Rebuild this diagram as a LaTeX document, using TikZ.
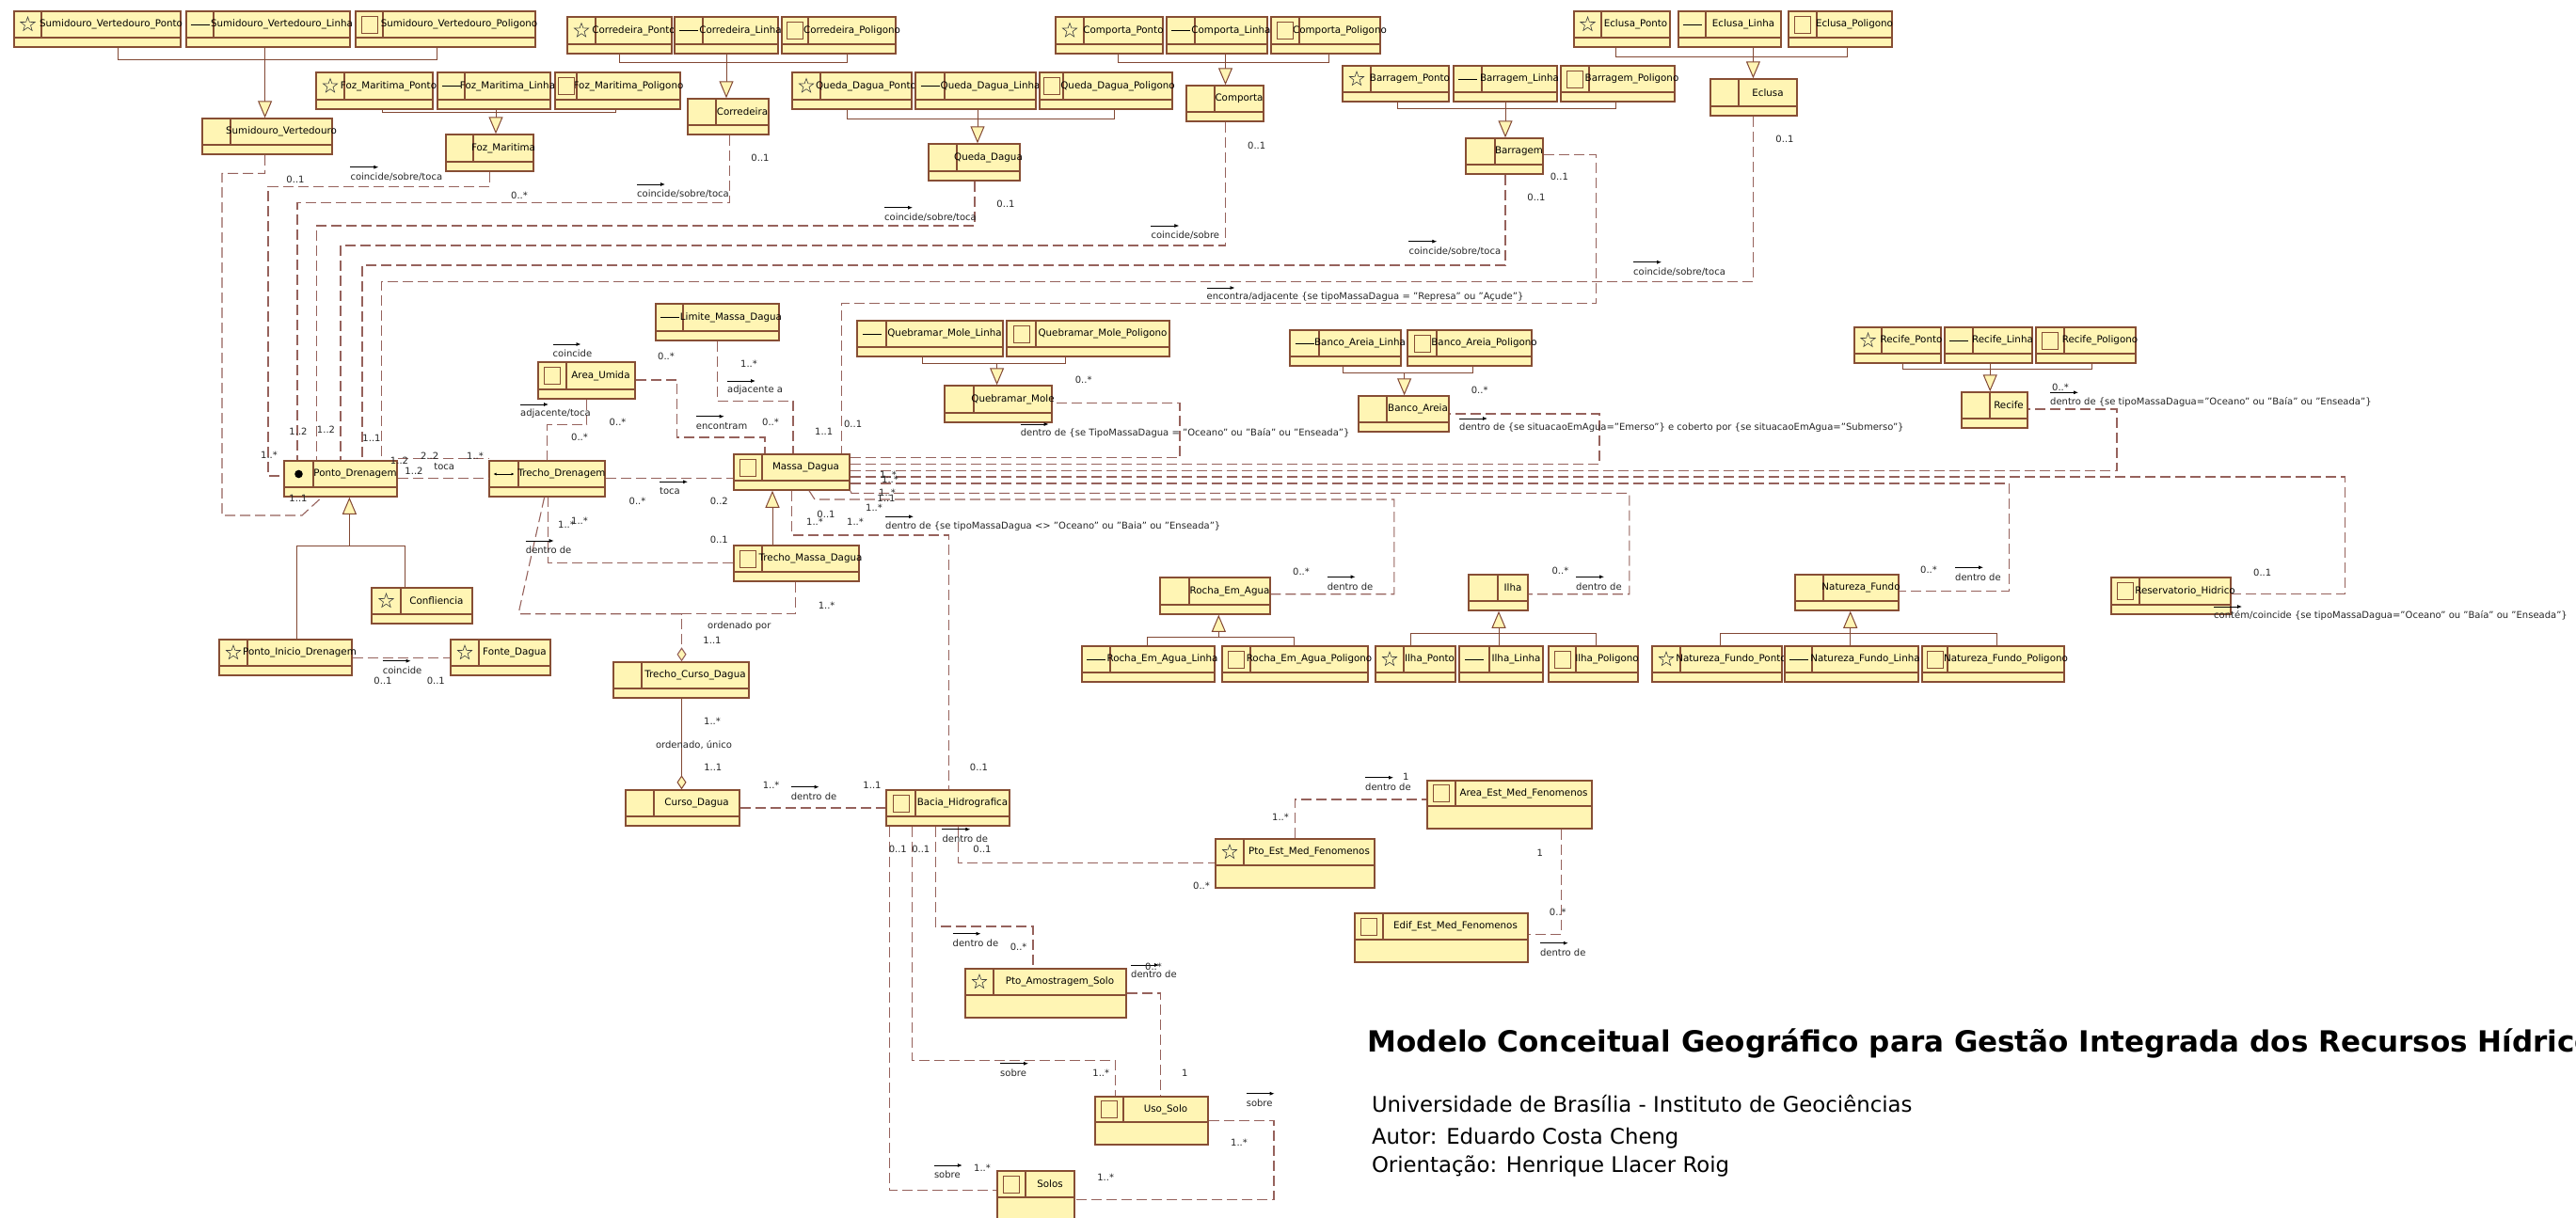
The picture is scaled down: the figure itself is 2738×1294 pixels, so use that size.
\documentclass[tikz,border=0pt]{standalone}
\usepackage{fontspec}
\setmainfont{DejaVu Sans}
\usetikzlibrary{shapes.geometric,arrows.meta,calc,fit}
\definecolor{boxfill}{RGB}{255,245,180}
\definecolor{boxdraw}{RGB}{135,78,52}
\definecolor{assocc}{RGB}{150,98,92}
\definecolor{genc}{RGB}{130,72,52}
\tikzset{
  clsbox/.style={draw=boxdraw, fill=boxfill, line width=1.5pt, inner sep=0pt, rectangle},
  clsln/.style={draw=boxdraw, line width=1.3pt},
  clsname/.style={font=\fontsize{10.3}{12}\selectfont, inner sep=0pt, text=black},
  lbl/.style={font=\fontsize{10}{12}\selectfont, inner sep=0pt, text=black!85},
  assoc/.style={draw=assocc, line width=1.1pt, dash pattern=on 11pt off 5pt},
  gen/.style={draw=genc, line width=1.0pt},
  tri/.style={-{Triangle[length=18pt,width=15pt,fill=boxfill]}},
  dia/.style={-{Diamond[length=15pt,width=10pt,fill=boxfill]}},
  relarr/.style={draw=black, line width=0.8pt, -{Latex[length=5pt,width=4pt]}},
  icstar/.style={star, star points=5, star point ratio=2.5, draw=black!75, line width=0.6pt, minimum size=16pt, inner sep=0pt},
}
\newcommand\icStar[1]{\node[icstar] at #1 {};}
\newcommand\icLine[1]{\draw[black, line width=0.8pt] #1 ++(-10,0) -- ++(20,0);}
\newcommand\icPoly[1]{\draw[draw=boxdraw, line width=1pt] #1 ++(-8.5,-9) rectangle ++(17,18);}
\newcommand\icDot[1]{\fill[black] #1 circle[radius=4.3pt];}
\newcommand\icArr[1]{\draw[black, line width=0.6pt, {Latex[length=3pt,width=3pt]}-{Latex[length=3pt,width=3pt]}] #1 ++(-11,0) -- ++(22,0);}
\newcommand\icNone[1]{}
% name, left, top, right, bottom, compartment line, divider, label, icon
\newcommand\uml[9]{%
  \node[clsbox, fit={(#2,#3) (#4,#5)}] (#1) {};
  \draw[clsln] (#2,#6) -- (#4,#6);
  \draw[clsln] (#7,#3) -- (#7,#6);
  \node[clsname] at ($(#7,#3)!0.5!(#4,#6)$) {#8};
  #9{($(#2,#3)!0.5!(#7,#6)$)}%
}
\newcommand\mlab[3]{\node[lbl] at (#1,#2) {#3};}
\newcommand\rlab[3]{\draw[relarr] (#1,#2-10) -- ++(30,0); \node[lbl,anchor=west] at (#1,#2) {#3};}
\newcommand\tlab[3]{\node[lbl,anchor=west] at (#1,#2) {#3};}
\begin{document}
\begin{tikzpicture}[x=1pt,y=-1pt]
\fill[white] (0,0) rectangle (2738,1294);
\useasboundingbox (0,0) rectangle (2738,1294);
% ---------------- classes ----------------
\uml{svp}{15}{12}{192}{50}{40}{44}{Sumidouro\_Vertedouro\_Ponto}{\icStar}
\uml{svl}{198}{12}{372}{50}{40}{227}{Sumidouro\_Vertedouro\_Linha}{\icLine}
\uml{svg}{378}{12}{569}{50}{40}{407}{Sumidouro\_Vertedouro\_Poligono}{\icPoly}
\uml{sv}{215}{126}{353}{164}{154}{245}{Sumidouro\_Vertedouro}{\icNone}
\uml{fmp}{336}{77}{460}{116}{106}{366}{Foz\_Maritima\_Ponto}{\icStar}
\uml{fml}{465}{77}{585}{116}{106}{494}{Foz\_Maritima\_Linha}{\icLine}
\uml{fmg}{590}{77}{723}{116}{106}{613}{Foz\_Maritima\_Poligono}{\icPoly}
\uml{fm}{474}{143}{567}{182}{172}{503}{Foz\_Maritima}{\icNone}
\uml{crp}{603}{18}{714}{57}{47}{633}{Corredeira\_Ponto}{\icStar}
\uml{crl}{717}{18}{827}{57}{47}{747}{Corredeira\_Linha}{\icLine}
\uml{crg}{831}{18}{952}{57}{47}{859}{Corredeira\_Poligono}{\icPoly}
\uml{cr}{731}{105}{817}{143}{133}{761}{Corredeira}{\icNone}
\uml{qdp}{842}{77}{969}{116}{106}{872}{Queda\_Dagua\_Ponto}{\icStar}
\uml{qdl}{973}{77}{1101}{116}{106}{1004}{Queda\_Dagua\_Linha}{\icLine}
\uml{qdg}{1105}{77}{1246}{116}{106}{1130}{Queda\_Dagua\_Poligono}{\icPoly}
\uml{qd}{987}{153}{1084}{192}{182}{1017}{Queda\_Dagua}{\icNone}
\uml{cop}{1122}{18}{1236}{57}{47}{1152}{Comporta\_Ponto}{\icStar}
\uml{col}{1240}{18}{1347}{57}{47}{1270}{Comporta\_Linha}{\icLine}
\uml{cog}{1351}{18}{1467}{57}{47}{1381}{Comporta\_Poligono}{\icPoly}
\uml{co}{1261}{91}{1343}{129}{119}{1291}{Comporta}{\icNone}
\uml{bap}{1427}{70}{1540}{108}{98}{1457}{Barragem\_Ponto}{\icStar}
\uml{bal}{1545}{70}{1655}{108}{98}{1575}{Barragem\_Linha}{\icLine}
\uml{bag}{1659}{70}{1780}{108}{98}{1689}{Barragem\_Poligono}{\icPoly}
\uml{ba}{1558}{147}{1640}{185}{175}{1589}{Barragem}{\icNone}
\uml{ecp}{1673}{12}{1775}{50}{40}{1702}{Eclusa\_Ponto}{\icStar}
\uml{ecl}{1784}{12}{1893}{50}{40}{1813}{Eclusa\_Linha}{\icLine}
\uml{ecg}{1901}{12}{2011}{50}{40}{1931}{Eclusa\_Poligono}{\icPoly}
\uml{ec}{1818}{84}{1910}{123}{113}{1848}{Eclusa}{\icNone}
\uml{lmd}{697}{323}{828}{362}{352}{726}{Limite\_Massa\_Dagua}{\icLine}
\uml{au}{572}{385}{675}{424}{414}{602}{Area\_Umida}{\icPoly}
\uml{pd}{302}{490}{422}{528}{518}{333}{Ponto\_Drenagem}{\icDot}
\uml{td}{520}{490}{643}{528}{518}{551}{Trecho\_Drenagem}{\icArr}
\uml{md}{780}{483}{903}{521}{511}{810}{Massa\_Dagua}{\icPoly}
\uml{tmd}{780}{580}{913}{618}{608}{810}{Trecho\_Massa\_Dagua}{\icPoly}
\uml{cf}{395}{625}{502}{663}{653}{426}{Confliencia}{\icStar}
\uml{pid}{233}{680}{374}{718}{708}{263}{Ponto\_Inicio\_Drenagem}{\icStar}
\uml{fd}{479}{680}{585}{718}{708}{509}{Fonte\_Dagua}{\icStar}
\uml{tcd}{652}{704}{796}{742}{732}{682}{Trecho\_Curso\_Dagua}{\icNone}
\uml{cd}{665}{840}{786}{878}{868}{695}{Curso\_Dagua}{\icNone}
\uml{bh}{942}{840}{1073}{878}{868}{973}{Bacia\_Hidrografica}{\icPoly}
\uml{qml}{911}{341}{1066}{379}{369}{942}{Quebramar\_Mole\_Linha}{\icLine}
\uml{qmg}{1070}{341}{1243}{379}{369}{1101}{Quebramar\_Mole\_Poligono}{\icPoly}
\uml{qm}{1004}{410}{1118}{449}{439}{1035}{Quebramar\_Mole}{\icNone}
\uml{bnl}{1371}{351}{1489}{389}{379}{1402}{Banco\_Areia\_Linha}{\icLine}
\uml{bng}{1496}{351}{1628}{389}{379}{1527}{Banco\_Areia\_Poligono}{\icPoly}
\uml{bn}{1444}{421}{1540}{459}{449}{1474}{Banco\_Areia}{\icNone}
\uml{rep}{1971}{348}{2063}{386}{376}{2000}{Recife\_Ponto}{\icStar}
\uml{rel}{2067}{348}{2160}{386}{376}{2097}{Recife\_Linha}{\icLine}
\uml{reg}{2164}{348}{2270}{386}{376}{2194}{Recife\_Poligono}{\icPoly}
\uml{re}{2085}{417}{2155}{455}{445}{2115}{Recife}{\icNone}
\uml{ra}{1233}{614}{1350}{653}{643}{1264}{Rocha\_Em\_Agua}{\icNone}
\uml{ral}{1150}{687}{1291}{725}{715}{1180}{Rocha\_Em\_Agua\_Linha}{\icLine}
\uml{rag}{1299}{687}{1454}{725}{715}{1329}{Rocha\_Em\_Agua\_Poligono}{\icPoly}
\uml{ilp}{1462}{687}{1547}{725}{715}{1492}{Ilha\_Ponto}{\icStar}
\uml{ill}{1551}{687}{1640}{725}{715}{1583}{Ilha\_Linha}{\icLine}
\uml{ilg}{1646}{687}{1741}{725}{715}{1675}{Ilha\_Poligono}{\icPoly}
\uml{il}{1561}{611}{1624}{649}{639}{1592}{Ilha}{\icNone}
\uml{nf}{1908}{611}{2018}{649}{639}{1938}{Natureza\_Fundo}{\icNone}
\uml{nfp}{1756}{687}{1894}{725}{715}{1786}{Natureza\_Fundo\_Ponto}{\icStar}
\uml{nfl}{1897}{687}{2039}{725}{715}{1926}{Natureza\_Fundo\_Linha}{\icLine}
\uml{nfg}{2043}{687}{2194}{725}{715}{2070}{Natureza\_Fundo\_Poligono}{\icPoly}
\uml{rh}{2244}{614}{2371}{653}{643}{2274}{Reservatorio\_Hidrico}{\icPoly}
\uml{pem}{1292}{892}{1461}{944}{920}{1322}{Pto\_Est\_Med\_Fenomenos}{\icStar}
\uml{aem}{1517}{830}{1692}{881}{857}{1547}{Area\_Est\_Med\_Fenomenos}{\icPoly}
\uml{eem}{1440}{971}{1624}{1023}{999}{1470}{Edif\_Est\_Med\_Fenomenos}{\icPoly}
\uml{pas}{1026}{1030}{1197}{1082}{1058}{1056}{Pto\_Amostragem\_Solo}{\icStar}
\uml{us}{1164}{1166}{1284}{1217}{1193}{1194}{Uso\_Solo}{\icPoly}
\uml{so}{1060}{1245}{1142}{1302}{1273}{1090}{Solos}{\icPoly}
% ---------------- generalizations ----------------
\draw[gen] (svp.south -| 125,0) -- (125,63.3) -- (464.7,63.3) -- (svg.south -| 464.7,0);
\draw[gen,tri] (svl.south -| 281.6,0) -- (sv.north -| 281.6,0);
\draw[gen] (fmp.south -| 406,0) -- (406,119) -- (654.8,119) -- (fmg.south -| 654.8,0);
\draw[gen,tri] (fml.south -| 527,0) -- (fm.north -| 527,0);
\draw[gen] (crp.south -| 658,0) -- (658,66.7) -- (900.6,66.7) -- (crg.south -| 900.6,0);
\draw[gen,tri] (crl.south -| 772,0) -- (cr.north -| 772,0);
\draw[gen] (qdp.south -| 900.6,0) -- (900.6,126) -- (1184.6,126) -- (qdg.south -| 1184.6,0);
\draw[gen,tri] (qdl.south -| 1039,0) -- (qd.north -| 1039,0);
\draw[gen] (cop.south -| 1188,0) -- (1188,66.7) -- (1412.8,66.7) -- (cog.south -| 1412.8,0);
\draw[gen,tri] (col.south -| 1302.5,0) -- (co.north -| 1302.5,0);
\draw[gen] (bap.south -| 1485.5,0) -- (1485.5,115.7) -- (1717.3,115.7) -- (bag.south -| 1717.3,0);
\draw[gen,tri] (bal.south -| 1600,0) -- (ba.north -| 1600,0);
\draw[gen] (ecp.south -| 1717,0) -- (1717,60.7) -- (1963.3,60.7) -- (ecg.south -| 1963.3,0);
\draw[gen,tri] (ecl.south -| 1863.4,0) -- (ec.north -| 1863.4,0);
\draw[gen] (qml.south -| 980,0) -- (980,386) -- (1132,386) -- (qmg.south -| 1132,0);
\coordinate (j8) at (1059.6,386);
\draw[gen,tri] (j8) -- (qm.north -| j8);
\draw[gen] (bnl.south -| 1427,0) -- (1427,396) -- (1565.3,396) -- (bng.south -| 1565.3,0);
\coordinate (j9) at (1492.6,396);
\draw[gen,tri] (j9) -- (bn.north -| j9);
\draw[gen] (rep.south -| 2022.5,0) -- (2022.5,392.7) -- (2223.5,392.7) -- (reg.south -| 2223.5,0);
\draw[gen,tri] (rel.south -| 2115.2,0) -- (re.north -| 2115.2,0);
\draw[gen] (ral.north -| 1219.5,0) -- (1219.5,677) -- (1375,677) -- (rag.north -| 1375,0);
\coordinate (j11) at (1295.3,677);
\draw[gen,tri] (j11) -- (ra.south -| j11);
\draw[gen] (ilp.north -| 1499.6,0) -- (1499.6,673.3) -- (1696.2,673.3) -- (ilg.north -| 1696.2,0);
\draw[gen,tri] (ill.north -| 1593,0) -- (il.south -| 1593,0);
\draw[gen] (nfp.north -| 1828,0) -- (1828,673.3) -- (2122.8,673.3) -- (nfg.north -| 2122.8,0);
\draw[gen,tri] (nfl.north -| 1966.7,0) -- (nf.south -| 1966.7,0);
\draw[gen] (pid.north -| 315.8,0) -- (315.8,580) -- (430,580) -- (cf.north -| 430,0);
\coordinate (j14) at (371.4,580);
\draw[gen,tri] (j14) -- (pd.south -| j14);
\draw[gen,tri] (tmd.north -| 821,0) -- (md.south -| 821,0);
% ---------------- associations ----------------
\draw[assoc] (sv.south -| 281.6,0) -- (281.6,184.3) -- (236,184.3) -- (236,548) -- (321,548) -- (pd.south -| 342,0);
\draw[assoc] (fm.south -| 520.4,0) -- (520.4,198.3) -- (285,198.3) -- (285,506) -- (pd.west |- 0,506);
\draw[assoc] (cr.south -| 775.6,0) -- (775.6,215.7) -- (316,215.7) -- (pd.north -| 316,0);
\draw[assoc] (qd.south -| 1036,0) -- (1036,240) -- (336.7,240) -- (pd.north -| 336.7,0);
\draw[assoc] (co.south -| 1302.5,0) -- (1302.5,261) -- (362,261) -- (pd.north -| 362,0);
\draw[assoc] (ba.south -| 1600,0) -- (1600,282) -- (385,282) -- (pd.north -| 385,0);
\draw[assoc] (ec.south -| 1863.4,0) -- (1863.4,299.7) -- (405.6,299.7) -- (pd.north -| 405.6,0);
\draw[assoc] (ba.east |- 0,164.7) -- (1696.8,164.7) -- (1696.8,322.7) -- (894.6,322.7) -- (md.north -| 894.6,0);
\draw[assoc] (lmd.south -| 762.6,0) -- (762.6,426.7) -- (843,426.7) -- (md.north -| 843,0);
\draw[assoc] (au.east |- 0,404) -- (719.6,404) -- (719.6,465) -- (813,465) -- (md.north -| 813,0);
\draw[assoc] (au.south -| 623.7,0) -- (623.7,451.7) -- (581.8,451.7) -- (td.north -| 581.8,0);
\draw[assoc] (pd.north east |- 0,487.3) -- (td.north west |- 0,487.3);
\draw[assoc] (pd.east |- 0,508.3) -- (td.west |- 0,508.3);
\draw[assoc] (td.east |- 0,508.3) -- (md.west |- 0,508.3);
\draw[assoc] (tmd.west |- 0,598.3) -- (582.7,598.3) -- (td.south -| 582.7,0);
\draw[assoc,dia] (tmd.south -| 845.4,0) -- (845.4,652.7) -- (724.5,652.7) -- (tcd.north -| 724.5,0);
\coordinate (j16) at (724.5,652.7);
\draw[assoc] (td.south -| 578.6,0) -- (552,648) -- (552,652.7) -- (j16);
\draw[gen,dia] (tcd.south -| 724.5,0) -- (cd.north -| 724.5,0);
\draw[assoc] (cd.east |- 0,859) -- (bh.west |- 0,859);
\draw[assoc] (md.south -| 841.8,0) -- (841.8,569) -- (1008.2,569) -- (bh.north -| 1008.2,0);
\draw[assoc] (md.south -| 860,0) -- (866,531) -- (1481.8,531) -- (1481.8,631.7) -- (ra.east |- 0,631.7);
\draw[assoc] (md.south east) -- (905,524.3) -- (1731.8,524.3) -- (1731.8,631.7) -- (il.east |- 0,631.7);
\draw[assoc] (md.east |- 0,514) -- (2135.7,514) -- (2135.7,628.3) -- (nf.east |- 0,628.3);
\draw[assoc] (md.east |- 0,507) -- (2492.6,507) -- (2492.6,631.7) -- (rh.east |- 0,631.7);
\draw[assoc] (md.east |- 0,500.5) -- (2250,500.5) -- (2250,435) -- (re.east |- 0,435);
\draw[assoc] (md.east |- 0,493.3) -- (1700,493.3) -- (1700,440) -- (bn.east |- 0,440);
\draw[assoc] (md.east |- 0,486.3) -- (1254,486.3) -- (1254,428.3) -- (qm.east |- 0,428.3);
\draw[assoc] (pid.east |- 0,699.3) -- (fd.west |- 0,699.3);
\draw[assoc] (bh.south -| 1018.8,0) -- (1018.8,917.3) -- (pem.west |- 0,917.3);
\draw[assoc] (pem.north -| 1376.6,0) -- (1376.6,850) -- (aem.west |- 0,850);
\draw[assoc] (aem.south -| 1659.3,0) -- (1659.3,993.3) -- (eem.east |- 0,993.3);
\draw[assoc] (bh.south -| 994.2,0) -- (994.2,985) -- (1098,985) -- (pas.north -| 1098,0);
\draw[assoc] (bh.south -| 969.7,0) -- (969.7,1127.7) -- (1185.8,1127.7) -- (us.north -| 1185.8,0);
\draw[assoc] (bh.south -| 945.8,0) -- (945.8,1265.7) -- (so.west |- 0,1265.7);
\draw[assoc] (pas.east |- 0,1056) -- (1233.5,1056) -- (us.north -| 1233.5,0);
\draw[assoc] (us.east |- 0,1191.7) -- (1354,1191.7) -- (1354,1275.7) -- (so.east |- 0,1275.7);
% ---------------- association names ----------------
\rlab{372.3}{187.7}{coincide/sobre/toca}
\rlab{677}{206}{coincide/sobre/toca}
\rlab{940}{230.7}{coincide/sobre/toca}
\rlab{1223.3}{250}{coincide/sobre}
\rlab{1497.3}{266.7}{coincide/sobre/toca}
\rlab{1736}{288.7}{coincide/sobre/toca}
\rlab{1282.5}{316}{encontra/adjacente \{se tipoMassaDagua = "Represa" ou "Açude"\}}
\rlab{587.5}{376}{coincide}
\rlab{773}{415}{adjacente a}
\rlab{553}{440}{adjacente/toca}
\rlab{739.7}{452.7}{encontram}
\tlab{461.2}{496.3}{toca}
\rlab{701}{522.3}{toca}
\rlab{558.7}{585}{dentro de}
\rlab{1084.6}{461}{dentro de \{se TipoMassaDagua = "Oceano" ou "Baía" ou "Enseada"\}}
\rlab{1551}{455}{dentro de \{se situacaoEmAgua="Emerso"\} e coberto por \{se situacaoEmAgua="Submerso"\}}
\rlab{2179}{427.3}{dentro de \{se tipoMassaDagua="Oceano" ou "Baía" ou "Enseada"\}}
\rlab{941}{559.3}{dentro de \{se tipoMassaDagua <> "Oceano" ou "Baia" ou "Enseada"\}}
\rlab{1410.6}{623.3}{dentro de}
\rlab{1675}{623.3}{dentro de}
\rlab{2078}{613.3}{dentro de}
\rlab{2353}{655}{contém/coincide \{se tipoMassaDagua="Oceano" ou "Baía" ou "Enseada"\}}
\rlab{406.6}{712.7}{coincide}
\tlab{752}{666}{ordenado por}
\tlab{696.8}{791.7}{ordenado, único}
\rlab{840.6}{846.7}{dentro de}
\rlab{1001.3}{891.7}{dentro de}
\rlab{1451}{836.7}{dentro de}
\rlab{1636.8}{1012.7}{dentro de}
\rlab{1012.5}{1002.7}{dentro de}
\rlab{1202}{1036}{dentro de}
\rlab{1063}{1140.7}{sobre}
\rlab{1324.6}{1172.7}{sobre}
\rlab{992.8}{1249}{sobre}
% ---------------- multiplicities ----------------
\mlab{314}{191}{0..1}
\mlab{552}{207.7}{0..*}
\mlab{808}{168.3}{0..1}
\mlab{1069}{217.3}{0..1}
\mlab{1335.7}{155}{0..1}
\mlab{1633}{210}{0..1}
\mlab{1657.4}{188.3}{0..1}
\mlab{1897}{148.3}{0..1}
\mlab{286}{483.3}{1..*}
\mlab{317}{458.3}{1..2}
\mlab{346.5}{457}{1..2}
\mlab{395}{466}{1..1}
\mlab{317}{529.5}{1..1}
\mlab{424.5}{490}{1..2}
\mlab{456.6}{485}{2..2}
\mlab{505}{485}{1..*}
\mlab{440}{500.7}{1..2}
\mlab{708}{379.3}{0..*}
\mlab{796}{387}{1..*}
\mlab{656.6}{449.3}{0..*}
\mlab{616}{465}{0..*}
\mlab{819}{449.3}{0..*}
\mlab{875.7}{459.3}{1..1}
\mlab{906.6}{451}{0..1}
\mlab{677.5}{533.3}{0..*}
\mlab{764.3}{533.3}{0..2}
\mlab{602}{558}{1..*}
\mlab{616}{554}{1..*}
\mlab{764.3}{574}{0..1}
\mlab{878.6}{643.3}{1..*}
\mlab{757}{681}{1..1}
\mlab{757}{766.7}{1..*}
\mlab{757.8}{815.7}{1..1}
\mlab{819.6}{835}{1..*}
\mlab{927}{835}{1..1}
\mlab{1040.5}{815.7}{0..1}
\mlab{944}{505}{1..*}
\mlab{946}{510}{1..*}
\mlab{943}{524}{1..*}
\mlab{942}{529.5}{1..1}
\mlab{929}{540}{1..*}
\mlab{878}{546.7}{0..1}
\mlab{866}{555}{1..*}
\mlab{909}{555}{1..*}
\mlab{1151.7}{404}{0..*}
\mlab{1572.7}{415}{0..*}
\mlab{2190}{411.7}{0..*}
\mlab{1383}{608.3}{0..*}
\mlab{1658.4}{606.7}{0..*}
\mlab{2050}{606}{0..*}
\mlab{2404.7}{609}{0..1}
\mlab{407}{724}{0..1}
\mlab{463.3}{724}{0..1}
\mlab{954.3}{903.3}{0..1}
\mlab{978.8}{903.3}{0..1}
\mlab{1044}{903.3}{0..1}
\mlab{1277}{942.3}{0..*}
\mlab{1361}{868.3}{1..*}
\mlab{1494.4}{826}{1}
\mlab{1636.8}{906.7}{1}
\mlab{1655.8}{970}{0..*}
\mlab{1082.6}{1006.7}{0..*}
\mlab{1226}{1028}{0..*}
\mlab{1259.4}{1140.7}{1}
\mlab{1170.3}{1140.7}{1..*}
\mlab{1317}{1215}{1..*}
\mlab{1175.2}{1251.7}{1..*}
\mlab{1044}{1241.7}{1..*}
% ---------------- title block ----------------
\node[anchor=base west, inner sep=0pt, font=\fontsize{31}{36}\selectfont\bfseries] (title) at (1453.6,1118) {Modelo Conceitual Geográfico para Gestão Integrada dos Recursos Hídricos};
\node[anchor=base west, inner sep=0pt, font=\fontsize{22.8}{27}\selectfont] (uni) at (1457.8,1182) {Universidade de Brasília - Instituto de Geociências};
\node[anchor=base west, inner sep=0pt, font=\fontsize{22.8}{27}\selectfont] (aut) at (1457.8,1216) {Autor: Eduardo Costa Cheng};
\node[anchor=base west, inner sep=0pt, font=\fontsize{22.8}{27}\selectfont] (ori) at (1457.8,1246) {Orientação: Henrique Llacer Roig};
\end{tikzpicture}
\end{document}
